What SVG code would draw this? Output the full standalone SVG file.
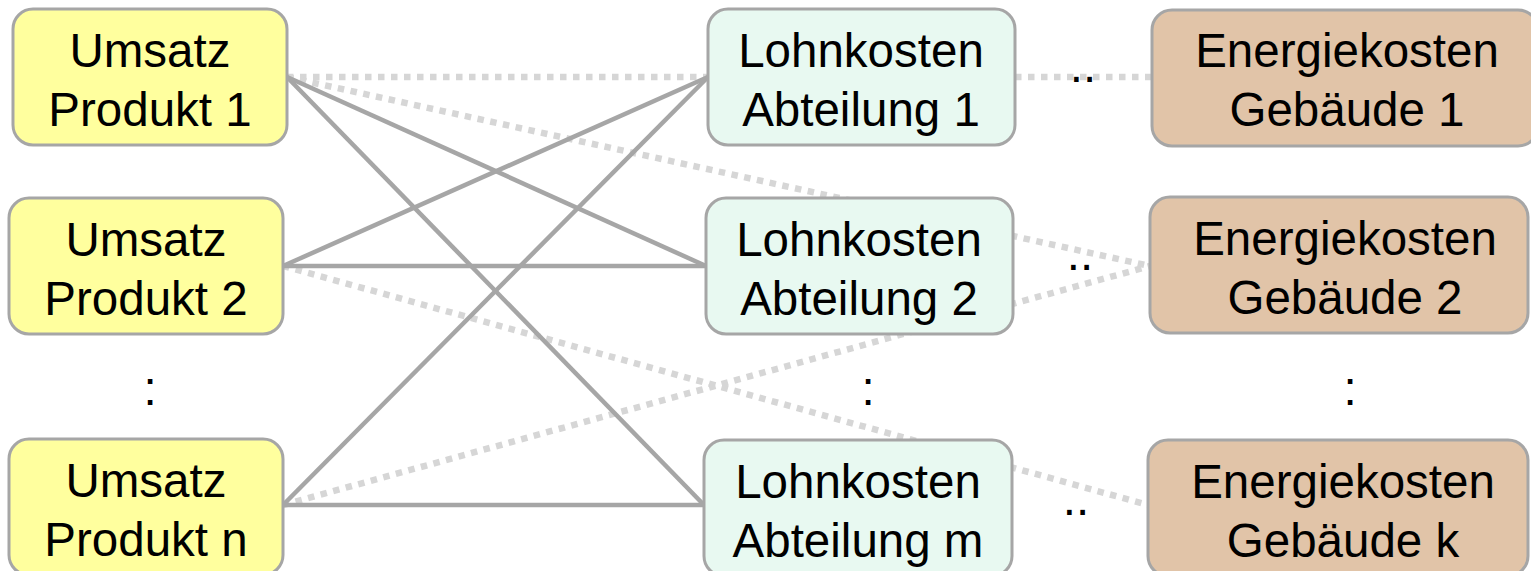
<svg xmlns="http://www.w3.org/2000/svg" width="1531" height="571" viewBox="0 0 1531 571">
<style>
.box{stroke:#A6A6A6;stroke-width:3}
.u{fill:#FFFF9E}
.l{fill:#E8F9F1}
.e{fill:#E1C4A8}
text{font-family:"Liberation Sans",Arial,sans-serif;font-size:47.5px;fill:#000;text-anchor:middle}
.solid{stroke:#A6A6A6;stroke-width:4.5;fill:none}
.dot{stroke:#D6D6D6;stroke-width:6.5;stroke-dasharray:6.5 6.5;fill:none}
</style>
<rect width="1531" height="571" fill="#fff"/>
<g id="connectors">
<line class="dot" x1="287" y1="77" x2="708" y2="77"/>
<line class="dot" x1="287" y1="77" x2="1150" y2="266"/>
<line class="dot" x1="283" y1="266" x2="1148" y2="505"/>
<line class="dot" x1="283" y1="505" x2="1150" y2="266"/>
<line class="dot" x1="1015" y1="77" x2="1152" y2="77"/>
<line class="solid" x1="287" y1="77" x2="706" y2="266"/>
<line class="solid" x1="287" y1="77" x2="704" y2="505"/>
<line class="solid" x1="283" y1="266" x2="708" y2="77"/>
<line class="solid" x1="283" y1="266" x2="706" y2="266"/>
<line class="solid" x1="283" y1="505" x2="708" y2="77"/>
<line class="solid" x1="283" y1="505" x2="704" y2="505"/>
</g>
<g id="u1"><rect class="box u" x="13" y="9" width="274" height="136" rx="20"/><text x="150" y="67">Umsatz</text><text x="150" y="126">Produkt 1</text></g>
<g id="u2"><rect class="box u" x="9" y="198" width="274" height="136" rx="20"/><text x="146" y="256">Umsatz</text><text x="146" y="315">Produkt 2</text></g>
<g id="un"><rect class="box u" x="9" y="439" width="274" height="136" rx="20"/><text x="146" y="497">Umsatz</text><text x="146" y="556">Produkt n</text></g>
<g id="l1"><rect class="box l" x="708" y="9" width="307" height="136" rx="20"/><text x="861" y="67">Lohnkosten</text><text x="861" y="126">Abteilung 1</text></g>
<g id="l2"><rect class="box l" x="706" y="198" width="307" height="136" rx="20"/><text x="859" y="256">Lohnkosten</text><text x="859" y="315">Abteilung 2</text></g>
<g id="lm"><rect class="box l" x="704" y="440" width="308" height="136" rx="20"/><text x="858" y="498">Lohnkosten</text><text x="858" y="557">Abteilung m</text></g>
<g id="e1"><rect class="box e" x="1152" y="10" width="386" height="136" rx="20"/><text x="1347" y="67">Energiekosten</text><text x="1347" y="126">Gebäude 1</text></g>
<g id="e2"><rect class="box e" x="1150" y="197" width="378" height="136" rx="20"/><text x="1345" y="255">Energiekosten</text><text x="1345" y="314">Gebäude 2</text></g>
<g id="ek"><rect class="box e" x="1148" y="440" width="380" height="136" rx="20"/><text x="1343" y="498">Energiekosten</text><text x="1343" y="557">Gebäude k</text></g>
<g id="labels">
<text x="1083" y="82">..</text>
<text x="1080" y="270">..</text>
<text x="1076" y="515">..</text>
<text x="150" y="405">:</text>
<text x="868" y="405">:</text>
<text x="1350" y="405">:</text>
</g>
</svg>
